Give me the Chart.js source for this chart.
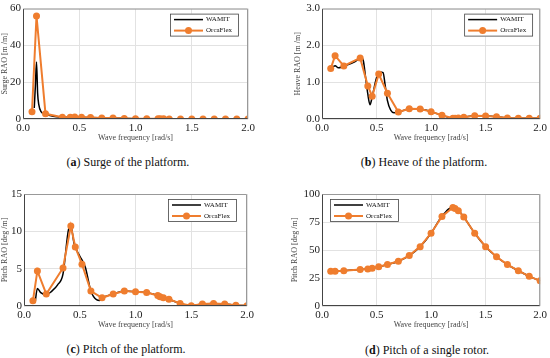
<!DOCTYPE html>
<html lang="en">
<head>
    <meta charset="UTF-8">
    <title>RAO comparison WAMIT / OrcaFlex</title>
    <script src="https://cdn.jsdelivr.net/npm/chart.js"></script>
    <style>
        body {
            margin: 0;
            background: #fff;
            width: 550px;
            height: 358px;
            position: relative;
            overflow: hidden;
            font-family: 'Liberation Serif', serif;
        }
        canvas {
            position: absolute;
        }
        .caption {
            position: absolute;
            font-size: 12px;
            color: #111;
            white-space: nowrap;
            transform: translate(-50%, -50%);
        }
    </style>
</head>
<body>
    <canvas id="surge" width="275" height="145" style="left:0;top:0"></canvas>
    <canvas id="heave" width="275" height="145" style="left:275px;top:0"></canvas>
    <canvas id="pitch" width="275" height="153" style="left:0;top:179px"></canvas>
    <canvas id="rotor" width="275" height="153" style="left:275px;top:179px"></canvas>

    <div class="caption" style="left:128px;top:162px">(<b>a</b>) Surge of the platform.</div>
    <div class="caption" style="left:424px;top:162px">(<b>b</b>) Heave of the platform.</div>
    <div class="caption" style="left:126px;top:349px">(<b>c</b>) Pitch of the platform.</div>
    <div class="caption" style="left:427px;top:350px">(<b>d</b>) Pitch of a single rotor.</div>

    <script>
        // OrcaFlex sample frequencies (rad/s)
        const freqOrca = [0.08, 0.12, 0.2, 0.35, 0.42, 0.46, 0.52, 0.6, 0.7, 0.8, 0.9, 1.0, 1.1, 1.2, 1.22, 1.25, 1.3, 1.4, 1.5, 1.6, 1.7, 1.8, 1.9, 2.0];
        const surgeOrca = [4, 56, 2.8, 1.0, 0.9, 1.1, 1.0, 0.8, 0.6, 0.5, 0.3, 0.2, 0.1, 0.1, 0.1, 0.1, 0.05, 0.05, 0.05, 0.05, 0.05, 0.05, 0.05, 0.05];
        const heaveOrca = [1.37, 1.72, 1.44, 1.66, 0.9, 0.62, 1.22, 0.7, 0.19, 0.28, 0.27, 0.2, 0.1, 0.02, 0.02, 0.03, 0.05, 0.09, 0.08, 0.06, 0.03, 0.02, 0.02, 0.02];
        const pitchOrca = [0.7, 4.7, 1.6, 5.1, 10.7, 7.9, 5.6, 2.0, 1.1, 1.6, 2.0, 1.9, 1.8, 1.4, 1.25, 1.1, 0.9, 0.35, 0.03, 0.27, 0.35, 0.27, 0.1, 0.05];
        const rotorOrca = [31, 31, 31.5, 32.5, 33, 33.8, 35, 37, 40, 45, 53, 65, 80, 88, 87, 85, 79.5, 65, 53, 44, 37, 31.5, 26.5, 22.5];

        // WAMIT curves
        const surgeFreqW = [0.1, 0.11, 0.12, 0.13, 0.14, 0.16, 0.2, 0.3, 0.4, 0.5, 0.6, 0.8, 1.0, 1.2, 1.5, 2.0];
        const surgeWamit = [6, 18, 31, 14, 8, 4, 2.5, 1.2, 0.9, 0.9, 0.8, 0.5, 0.2, 0.1, 0.05, 0.05];

        const heaveFreqW = [0.1, 0.12, 0.15, 0.2, 0.3, 0.36, 0.38, 0.4, 0.42, 0.44, 0.46, 0.5, 0.53, 0.56, 0.58, 0.6, 0.63, 0.66, 0.7, 0.8, 0.9, 1.0, 1.1, 1.2, 1.3, 1.4, 1.5, 1.6, 1.7, 1.8, 1.9, 2.0];
        const heaveWamit = [1.42, 1.45, 1.39, 1.44, 1.55, 1.67, 1.57, 1.12, 0.68, 0.39, 0.6, 1.12, 1.28, 1.26, 0.9, 0.5, 0.24, 0.17, 0.18, 0.28, 0.27, 0.2, 0.1, 0.02, 0.05, 0.09, 0.08, 0.06, 0.03, 0.02, 0.02, 0.02];

        const pitchFreqW = [0.1, 0.12, 0.15, 0.2, 0.25, 0.3, 0.35, 0.4, 0.42, 0.45, 0.5, 0.55, 0.6, 0.65, 0.68, 0.7, 0.8, 0.9, 1.0, 1.1, 1.2, 1.3, 1.4, 1.5, 1.6, 1.7, 1.8, 1.9, 2.0];
        const pitchWamit = [0.5, 2.36, 1.8, 1.5, 2.0, 2.8, 4.3, 10.3, 10.7, 8.3, 6.7, 5.2, 2.0, 0.85, 0.75, 1.05, 1.6, 2.0, 1.9, 1.8, 1.4, 0.9, 0.35, 0.03, 0.27, 0.35, 0.27, 0.1, 0.05];

        const rotorFreqW = [0.08, 0.2, 0.35, 0.46, 0.6, 0.7, 0.8, 0.9, 1.0, 1.1, 1.13, 1.16, 1.2, 1.25, 1.3, 1.4, 1.5, 1.6, 1.7, 1.8, 1.9, 2.0];
        const rotorWamit = [31, 31.5, 32.5, 33.8, 37, 40, 45, 53, 65, 80.5, 83.5, 86.5, 88.5, 85.5, 79.5, 65, 53, 44, 37, 31.5, 26.5, 22.5];

        const orange = '#ef7d2e';
        const serif = "'Liberation Serif', serif";

        function pts(xs, ys) {
            return xs.map((x, i) => ({ x: x, y: ys[i] }));
        }

        // box around the plot area: dark axes at left/bottom, lighter at top/right
        const framePlugin = {
            id: 'frame',
            afterDraw(chart) {
                const a = chart.chartArea;
                const ctx = chart.ctx;
                const l = a.left + 0.5, r = a.right - 0.5, t = a.top + 0.5, b = a.bottom - 0.5;
                ctx.save();
                ctx.lineWidth = 1;
                ctx.strokeStyle = '#999';
                ctx.beginPath();
                ctx.moveTo(l, t); ctx.lineTo(r, t); ctx.lineTo(r, b);
                ctx.stroke();
                ctx.strokeStyle = '#444';
                ctx.beginPath();
                ctx.moveTo(l, t); ctx.lineTo(l, b); ctx.lineTo(r, b);
                ctx.stroke();
                ctx.restore();
            }
        };

        // MATLAB-like legend box
        const boxLegend = {
            id: 'boxLegend',
            afterDraw(chart, args, opts) {
                const a = chart.chartArea;
                const ctx = chart.ctx;
                const w = 69, h = 23;
                const x = opts.side === 'left' ? a.left + opts.inset : a.right - opts.inset - w;
                const y = a.top + 5;
                ctx.save();
                ctx.fillStyle = '#fff';
                ctx.fillRect(x, y, w, h);
                ctx.strokeStyle = '#444';
                ctx.lineWidth = 0.8;
                ctx.strokeRect(x + 0.5, y + 0.5, w - 1, h - 1);
                ctx.font = '7px ' + serif;
                ctx.textBaseline = 'middle';
                chart.data.datasets.forEach((ds, i) => {
                    const ry = y + 6 + i * 11;
                    ctx.strokeStyle = ds.borderColor;
                    ctx.lineWidth = ds.borderWidth;
                    ctx.beginPath();
                    ctx.moveTo(x + 4, ry);
                    ctx.lineTo(x + 33, ry);
                    ctx.stroke();
                    if (ds.pointRadius > 0) {
                        ctx.fillStyle = ds.pointBackgroundColor;
                        ctx.beginPath();
                        ctx.arc(x + 18.5, ry, ds.pointRadius, 0, Math.PI * 2);
                        ctx.fill();
                    }
                    ctx.fillStyle = '#111';
                    ctx.fillText(ds.label, x + 36, ry);
                });
                ctx.restore();
            }
        };

        function makeChart(id, p) {
            new Chart(document.getElementById(id), {
                type: 'line',
                data: {
                    datasets: [{
                        label: 'WAMIT',
                        data: pts(p.wx, p.wy),
                        borderColor: '#000',
                        borderWidth: 1.5,
                        pointRadius: 0,
                        cubicInterpolationMode: 'monotone',
                        order: 1
                    }, {
                        label: 'OrcaFlex',
                        data: pts(freqOrca, p.oy),
                        borderColor: orange,
                        backgroundColor: orange,
                        pointBackgroundColor: orange,
                        pointBorderWidth: 0,
                        borderWidth: 2,
                        pointRadius: 3.5,
                        tension: 0,
                        order: 0
                    }]
                },
                options: {
                    responsive: false,
                    animation: false,
                    devicePixelRatio: 1,
                    layout: { padding: { left: p.padLeft, right: p.padRight, top: p.padTop, bottom: 0 } },
                    plugins: {
                        legend: { display: false },
                        tooltip: { enabled: false },
                        boxLegend: { side: p.legendSide, inset: p.legendInset }
                    },
                    scales: {
                        x: {
                            type: 'linear',
                            min: 0,
                            max: 2,
                            border: { display: false },
                            grid: { color: '#e2e2e2', drawTicks: false },
                            ticks: {
                                stepSize: 0.5,
                                padding: 3,
                                color: '#222',
                                font: { family: serif, size: 11 },
                                callback: v => v.toFixed(1)
                            },
                            title: {
                                display: true,
                                text: 'Wave frequency [rad/s]',
                                color: '#444',
                                padding: 2,
                                font: { family: serif, size: 8 }
                            },
                            afterFit: s => { s.height = 26; }
                        },
                        y: {
                            min: 0,
                            max: p.yMax,
                            border: { display: false },
                            grid: { color: '#e2e2e2', drawTicks: false },
                            ticks: {
                                stepSize: p.yStep,
                                padding: 2,
                                color: '#222',
                                font: { family: serif, size: 11 },
                                callback: v => p.yDec ? v.toFixed(1) : v
                            },
                            title: {
                                display: true,
                                text: p.yTitle,
                                color: '#444',
                                padding: 0,
                                font: { family: serif, size: 8 }
                            },
                            afterFit: s => { s.width = p.yWidth; }
                        }
                    }
                },
                plugins: [framePlugin, boxLegend]
            });
        }

        makeChart('surge', {
            wx: surgeFreqW, wy: surgeWamit, oy: surgeOrca,
            yMax: 60, yStep: 20, yDec: false, yTitle: 'Surge RAO [m /m]',
            padLeft: 0, yWidth: 23, padRight: 27, padTop: 6,
            legendSide: 'right', legendInset: 9
        });
        makeChart('heave', {
            wx: heaveFreqW, wy: heaveWamit, oy: heaveOrca,
            yMax: 3, yStep: 1, yDec: true, yTitle: 'Heave RAO [m /m]',
            padLeft: 18, yWidth: 29, padRight: 7, padTop: 6,
            legendSide: 'right', legendInset: 7
        });
        makeChart('pitch', {
            wx: pitchFreqW, wy: pitchWamit, oy: pitchOrca,
            yMax: 15, yStep: 5, yDec: false, yTitle: 'Pitch RAO [deg /m]',
            padLeft: 0, yWidth: 24, padRight: 28, padTop: 15,
            legendSide: 'right', legendInset: 10
        });
        makeChart('rotor', {
            wx: rotorFreqW, wy: rotorWamit, oy: rotorOrca,
            yMax: 100, yStep: 25, yDec: false, yTitle: 'Pitch RAO [deg /m]',
            padLeft: 15, yWidth: 32, padRight: 7, padTop: 15,
            legendSide: 'left', legendInset: 8
        });
    </script>
</body>
</html>
